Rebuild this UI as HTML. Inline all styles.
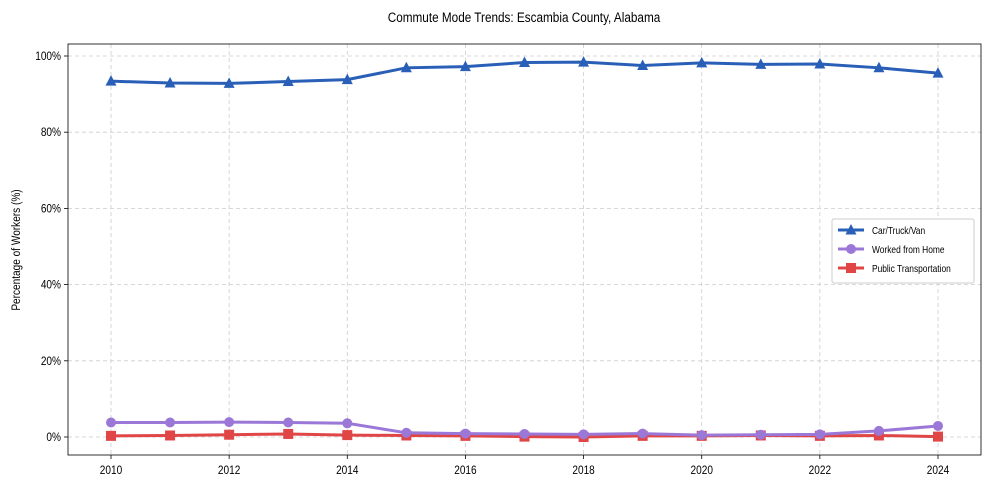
<!DOCTYPE html>
<html><head><meta charset="utf-8"><style>
body{margin:0;background:#fff;font-family:"Liberation Sans",sans-serif}
svg text{font-family:"Liberation Sans",sans-serif;fill:#000}
</style></head><body>
<svg id="c" width="989" height="490"></svg>
<script>
const years=[2010,2011,2012,2013,2014,2015,2016,2017,2018,2019,2020,2021,2022,2023,2024];
const car=[93.4,92.9,92.8,93.3,93.8,96.9,97.2,98.3,98.4,97.5,98.2,97.8,97.9,96.9,95.5];
const wfh=[3.8,3.8,3.9,3.8,3.6,1.1,0.9,0.8,0.7,0.9,0.5,0.6,0.7,1.6,2.9];
const pt=[0.3,0.4,0.6,0.8,0.5,0.4,0.3,0.1,0.0,0.3,0.3,0.4,0.3,0.4,0.1];
const yTicks=[0,20,40,60,80,100];
const xTicks=[2010,2012,2014,2016,2018,2020,2022,2024];
const NS='http://www.w3.org/2000/svg',svg=document.getElementById('c');
const L=68,R=981,T=44,B=455,SX=0.84;
const x=v=>111+(v-2010)*(938-111)/14, y=v=>437-v*3.81;
function mk(t,a,p){const e=document.createElementNS(NS,t);for(const k in a)e.setAttribute(k,a[k]);(p||svg).appendChild(e);return e;}
function txt(px,py,s,anchor,size,p,rot){const e=mk('text',{x:0,y:0,'text-anchor':anchor,'font-size':size,transform:`translate(${px},${py})${rot?' rotate('+rot+')':''} scale(${SX},1)`},p);e.textContent=s;return e;}
yTicks.forEach(t=>{const g=mk('line',{x1:L,x2:R,y1:y(t),y2:y(t),stroke:'#ccc','stroke-dasharray':'4,3','stroke-width':0.8});

mk('line',{x1:L-4,x2:L,y1:y(t),y2:y(t),stroke:'#000','stroke-width':0.8});
const tx=txt(L-7,y(t)+4,t+'%','end',12);
});
xTicks.forEach(t=>{const g=mk('line',{x1:x(t),x2:x(t),y1:T,y2:B,stroke:'#ccc','stroke-dasharray':'4,3','stroke-width':0.8});

mk('line',{x1:x(t),x2:x(t),y1:B,y2:B+4,stroke:'#000','stroke-width':0.8});
const tx=txt(x(t),B+19,String(t),'middle',12);
});
const fr=mk('rect',{x:L,y:T,width:R-L,height:B-T,fill:'none',stroke:'#000','stroke-width':0.8});

const ti=txt(524,22,'Commute Mode Trends: Escambia County, Alabama','middle',14);

const yl=txt(20,250,'Percentage of Workers (%)','middle',12,null,-90);

function marker(type,cx,cy,col,p){
 if(type==='tri')return mk('polygon',{points:`${cx},${cy-6} ${cx-5.5},${cy+4.5} ${cx+5.5},${cy+4.5}`,fill:col},p);
 if(type==='circ')return mk('circle',{cx,cy,r:5,fill:col},p);
 return mk('rect',{x:cx-5,y:cy-5,width:10,height:10,fill:col},p);}
const series=[[pt,'#e04646','sq','public-transportation'],[wfh,'#9b78d8','circ','worked-from-home'],[car,'#2a5fb8','tri','car-truck-van']];
series.forEach(([d,col,m,n])=>{const g=mk('g',{});
const l=mk('polyline',{points:d.map((v,i)=>x(years[i])+','+y(v)).join(' '),fill:'none',stroke:col,'stroke-width':3},g);

d.forEach((v,i)=>{const e=marker(m,x(years[i]),y(v),col,g);});});
const lg=mk('g',{});
mk('rect',{x:832,y:219,width:142,height:64,fill:'#fff',stroke:'#ccc',rx:2},lg);
[['Car/Truck/Van','#2a5fb8','tri'],['Worked from Home','#9b78d8','circ'],['Public Transportation','#e04646','sq']].forEach(([t,c,m],i)=>{
const yy=230+i*19;const g=mk('g',{},lg);
mk('line',{x1:838,x2:864,y1:yy,y2:yy,stroke:c,'stroke-width':3},g);marker(m,851,yy,c,g);
txt(872,yy+4,t,'start',10,g);});
</script></body></html>
